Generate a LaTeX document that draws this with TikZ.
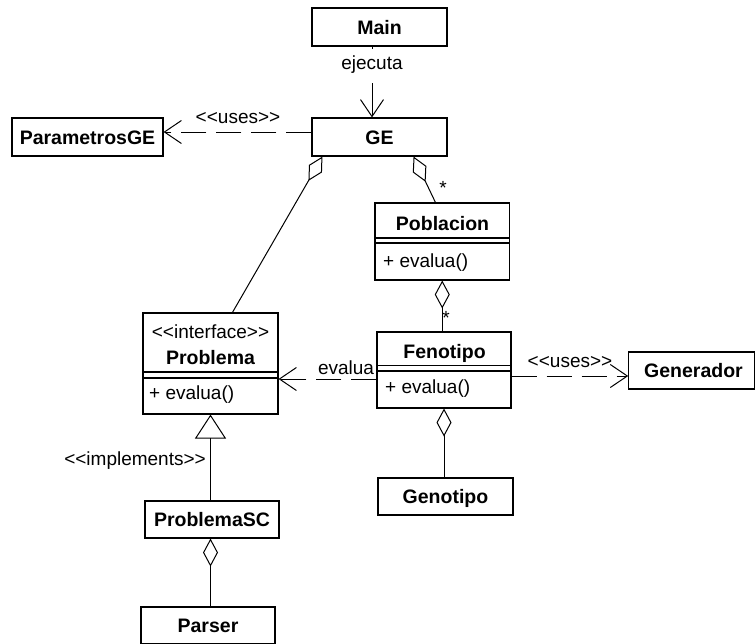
\documentclass[tikz,border=0pt]{standalone}
\usepackage{fontspec}
\setmainfont{Liberation Sans}
\usetikzlibrary{arrows.meta}
\def\estereo#1{<\kern0pt<#1>\kern0pt>}
\tikzset{
  clase/.style={draw, line width=1.1pt, inner sep=0pt, text height=14pt, text depth=0pt,
    font=\fontsize{19.5}{19.5}\selectfont\bfseries},
  nombre/.style={inner sep=0pt, anchor=base, font=\fontsize{19.5}{19.5}\selectfont\bfseries},
  texto/.style={inner sep=0pt, anchor=base, font=\fontsize{19}{19}\selectfont},
  divisor/.style={line width=1.1pt},
  usa/.style={line width=1pt, dash pattern=on 25pt off 10pt, -{Straight Barb[length=17pt,width=23pt]}},
  navega/.style={line width=1pt, -{Straight Barb[length=17pt,width=23pt]}},
  agrega/.style={line width=1pt, {Diamond[open,length=28pt,width=15pt]}-},
  realiza/.style={line width=1pt, -{Triangle[open,length=24pt,width=31pt]}}
}
\begin{document}
\begin{tikzpicture}[x=1pt,y=-1pt]
  \path[use as bounding box, fill=white] (0,0) rectangle (755,643);
  % clases simples
  \node[clase, minimum width=135pt, minimum height=38pt] (main) at (379.5,27) {Main};
  \node[clase, minimum width=135pt, minimum height=38pt] (ge) at (379.5,137) {GE};
  \node[clase, minimum width=151pt, minimum height=38pt] (param) at (87.5,137) {ParametrosGE};
  \node[clase, minimum width=125.5pt, minimum height=37pt] (gen) at (691.5,370.5) {\hspace*{4pt}Generador};
  \node[clase, minimum width=135pt, minimum height=37pt] (geno) at (445.5,496.5) {Genotipo};
  \node[clase, minimum width=134pt, minimum height=37pt] (psc) at (212,519.5) {ProblemaSC};
  \node[clase, minimum width=134pt, minimum height=37pt] (parser) at (208,625.5) {Parser};
  % Poblacion
  \node[clase, minimum width=134.5pt, minimum height=77pt] (pob) at (442.25,241.5) {};
  \node[nombre] (pobnom) at (442.5,230) {Poblacion};
  \draw[divisor] (pob.west |- 0,238) -- (pob.east |- 0,238);
  \draw[divisor] (pob.west |- 0,243) -- (pob.east |- 0,243);
  \node[texto, anchor=base west] (pobop) at (383,267) {+ evalua()};
  % Fenotipo
  \node[clase, minimum width=134pt, minimum height=76pt] (fen) at (444,370) {};
  \node[nombre] (fennom) at (444.5,358) {Fenotipo};
  \draw[divisor] (fen.west |- 0,365.5) -- (fen.east |- 0,365.5);
  \draw[divisor] (fen.west |- 0,371) -- (fen.east |- 0,371);
  \node[texto, anchor=base west] (fenop) at (385,393) {+ evalua()};
  % Problema
  \node[clase, minimum width=135pt, minimum height=101pt] (prob) at (210.5,363.5) {};
  \node[texto] (probest) at (210.5,338) {\estereo{interface}};
  \node[nombre] (probnom) at (210.5,364) {Problema};
  \draw[divisor] (prob.west |- 0,372) -- (prob.east |- 0,372);
  \draw[divisor] (prob.west |- 0,378) -- (prob.east |- 0,378);
  \node[texto, anchor=base west] (probop) at (149,399) {+ evalua()};
  % relaciones
  \node[texto, text depth=8pt, inner ysep=6pt] (ejec) at (372,69) {ejecuta};
  \draw[line width=1pt] ([xshift=-7.5pt]main.south) -- (ejec.north);
  \draw[navega] (ejec.south) -- (ejec.south |- ge.north);
  \draw[usa] ([yshift=5pt]ge.west) -- ([yshift=5pt]ge.west -| param.east);
  \node[texto] (usa1) at (238,123) {\estereo{uses}};
  \draw[agrega] ([xshift=11pt]ge.south west) -- ([xshift=90pt]prob.north west);
  \draw[agrega] ([xshift=-34pt]ge.south east) -- ([xshift=61pt]pob.north west);
  \node[texto] (mult1) at (443,194) {*};
  \draw[agrega] (pob.south) -- (pob.south |- fen.north);
  \node[texto] (mult2) at (446,324) {*};
  \draw[usa] ([yshift=-9pt]fen.west) -- ([yshift=-9pt]fen.west -| prob.east);
  \node[texto] (evlab) at (346,374) {evalua};
  \draw[usa] ([yshift=-6pt]fen.east) -- ([yshift=-6pt]fen.east -| gen.west);
  \node[texto] (usa2) at (570,367) {\estereo{uses}};
  \draw[agrega] (fen.south) -- (fen.south |- geno.north);
  \draw[realiza] (psc.north -| prob.south) -- (prob.south);
  \node[texto, anchor=base east] (impl) at (206,465) {\estereo{implements}};
  \draw[agrega] (psc.south -| prob.south) -- (parser.north -| prob.south);
\end{tikzpicture}
\end{document}
